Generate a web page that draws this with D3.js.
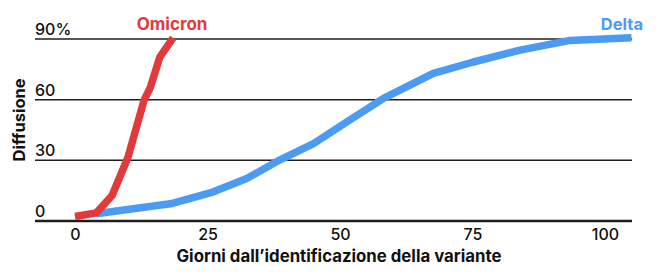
<!DOCTYPE html>
<html>
<head>
<meta charset="utf-8">
<script src="https://cdn.jsdelivr.net/npm/d3@7"></script>
<style>
  html, body { margin: 0; padding: 0; background: #fff; }
  svg { display: block; font-family: Inter, "Liberation Sans", sans-serif; }
</style>
</head>
<body>
<svg id="chart" width="660" height="280"></svg>
<script>
// ---- data ----
const xTicks = [0, 25, 50, 75, 100];
const yTicks = [0, 30, 60, 90];
const yTickLabels = ["0", "30", "60", "90%"];
const omicronDays   = [0, 4, 7, 10, 13, 14.2, 16, 18.5];
const omicronValues = [2.2, 4, 12.6, 31.5, 59.5, 66, 81, 90.5];
const deltaDays   = [4, 18, 26, 32.4, 38.5, 45, 51.3, 58.2, 67.6, 75, 84, 93.4, 105];
const deltaValues = [3.6, 8.5, 14.3, 21, 30, 38.3, 49, 60.6, 73, 78.5, 84.5, 89.3, 90.6];
const seriesNames = ["Omicron", "Delta"];
const xTitle = "Giorni dall\u2019identificazione della variante";
const yTitle = "Diffusione";

// ---- layout ----
const svg = d3.select("#chart");
const x = d3.scaleLinear().domain([0, 100]).range([75, 605]);
const y = d3.scaleLinear().domain([0, 90]).range([221, 39]);
const gridLeft = 35, gridRight = 632;
const red = "#e23a3a", blue = "#4b9bf4";

// gridlines
svg.append("g").selectAll("line").data(yTicks).join("line")
  .attr("x1", gridLeft).attr("x2", gridRight)
  .attr("y1", d => y(d)).attr("y2", d => y(d))
  .attr("stroke", "#1e1e1e")
  .attr("stroke-width", d => d === 0 ? 2.6 : 1.5);

// y tick labels
svg.append("g").selectAll("text").data(yTicks).join("text")
  .attr("x", gridLeft).attr("y", d => y(d) - 4)
  .attr("font-size", 16).attr("font-weight", 500).attr("fill", "#111")
  .text((d, i) => yTickLabels[i]);

// x axis ticks (labels only)
const xAxis = d3.axisBottom(x).tickValues(xTicks).tickSize(0).tickPadding(0);
const gx = svg.append("g").attr("transform", "translate(0,226)").call(xAxis);
gx.select(".domain").remove();
gx.selectAll("text").attr("font-size", 16).attr("font-weight", 500)
  .attr("fill", "#111").attr("font-family", "Inter, sans-serif").attr("dy", "0.9em");

// titles
svg.append("text").attr("x", x(50) - 1).attr("y", 262)
  .attr("text-anchor", "middle").attr("font-size", 16.8).attr("font-weight", 700)
  .attr("fill", "#111").text(xTitle);
svg.append("text").attr("transform", `translate(25,${y(50)}) rotate(-90)`)
  .attr("text-anchor", "middle").attr("font-size", 16.5).attr("font-weight", 700)
  .attr("fill", "#111").text(yTitle);

// lines
const line = d3.line().x(d => x(d[0])).y(d => y(d[1]));
const deltaData = deltaDays.map((d, i) => [d, deltaValues[i]]);
const omicronData = omicronDays.map((d, i) => [d, omicronValues[i]]);

svg.append("path").datum(deltaData).attr("d", line)
  .attr("fill", "none").attr("stroke", blue).attr("stroke-width", 7.5)
  .attr("stroke-linejoin", "round");
svg.append("path").datum(omicronData).attr("d", line)
  .attr("fill", "none").attr("stroke", red).attr("stroke-width", 7.5)
  .attr("stroke-linejoin", "round");

// series labels
const oEnd = omicronData[omicronData.length - 1];
svg.append("text").attr("x", x(oEnd[0]) - 1).attr("y", 30)
  .attr("text-anchor", "middle").attr("font-size", 17).attr("font-weight", 700)
  .attr("fill", red).text(seriesNames[0]);
svg.append("text").attr("x", 643).attr("y", 30)
  .attr("text-anchor", "end").attr("font-size", 16.5).attr("font-weight", 700)
  .attr("fill", blue).text(seriesNames[1]);
</script>
</body>
</html>
